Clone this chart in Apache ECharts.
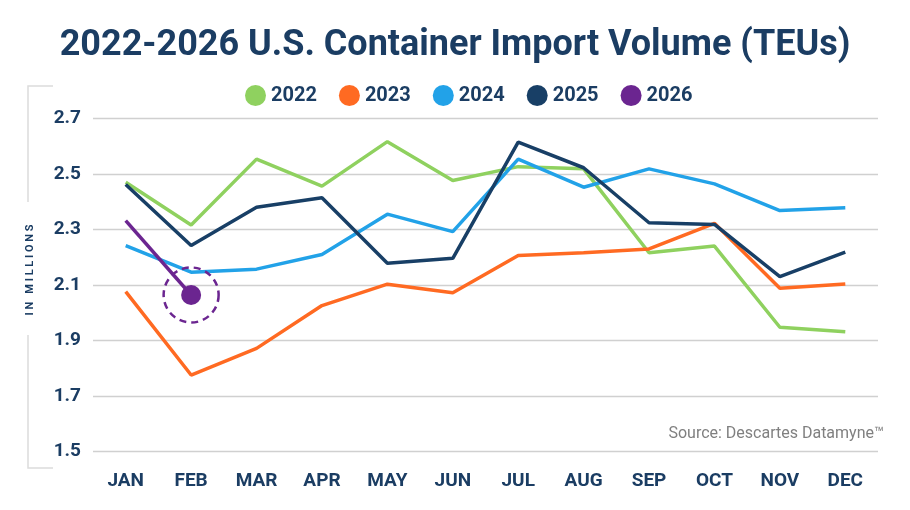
<!DOCTYPE html>
<html><head><meta charset="utf-8">
<script src="https://cdn.jsdelivr.net/npm/echarts@6/dist/echarts.min.js"></script>
<style>html,body{margin:0;padding:0;background:#fff}#c{width:910px;height:510px}</style>
</head><body><div id="c"></div>
<script>
const months = ['JAN','FEB','MAR','APR','MAY','JUN','JUL','AUG','SEP','OCT','NOV','DEC'];
const yTicks = [1.5, 1.7, 1.9, 2.1, 2.3, 2.5, 2.7];
const v2022 = [2.47, 2.316, 2.553, 2.456, 2.616, 2.476, 2.526, 2.518, 2.216, 2.24, 1.948, 1.932];
const v2023 = [2.076, 1.776, 1.872, 2.026, 2.103, 2.072, 2.206, 2.216, 2.23, 2.322, 2.088, 2.104];
const v2024 = [2.242, 2.146, 2.157, 2.21, 2.355, 2.292, 2.553, 2.452, 2.518, 2.464, 2.368, 2.378];
const v2025 = [2.462, 2.242, 2.38, 2.414, 2.178, 2.196, 2.614, 2.522, 2.324, 2.318, 2.13, 2.218];
const v2026 = [2.332, 2.064];
const years = ['2022','2023','2024','2025','2026'];
const colors = ['#8fd15f','#ff6a22','#22a2e8','#183f66','#6b2590'];
const NAVY = '#1b3d63';

const chart = echarts.init(document.getElementById('c'));
const lineSeries = (name, data, color) => ({
  name, type: 'line', data, symbol: 'none', smooth: false,
  lineStyle: { width: 3.5, color }, itemStyle: { color }
});
const last = v2026.length - 1;
const s2026 = lineSeries('2026', v2026.map((v, i) => i === last
  ? { value: v, symbol: 'circle', symbolSize: 20 }
  : { value: v, symbol: 'none' }), colors[4]);
s2026.markPoint = {
  symbol: 'circle', symbolSize: 55, silent: true,
  label: { show: false },
  itemStyle: { color: 'rgba(0,0,0,0)', borderColor: colors[4], borderWidth: 2.5, borderType: [7, 5] },
  data: [{ coord: [last, v2026[last]] }]
};

chart.setOption({
  animation: false,
  textStyle: { fontFamily: 'Roboto' },
  title: {
    text: '2022-2026 U.S. Container Import Volume (TEUs)',
    left: 'center', top: 23,
    textStyle: { fontFamily: 'Roboto', fontWeight: 'bold', fontSize: 36, color: NAVY }
  },
  legend: {
    data: years.map(y => ({ name: y, icon: 'circle' })),
    top: 80, left: 240, itemWidth: 21, itemHeight: 21, itemGap: 22,
    textStyle: { fontFamily: 'Roboto', fontWeight: 'bold', fontSize: 20, color: NAVY }
  },
  color: colors,
  grid: { left: 93, right: 32, top: 118.3, bottom: 58.3, containLabel: false },
  xAxis: {
    type: 'category', data: months, boundaryGap: true,
    axisLine: { show: false }, axisTick: { show: false },
    axisLabel: { fontFamily: 'Roboto', fontWeight: 'bold', fontSize: 19, color: NAVY, margin: 20 }
  },
  yAxis: {
    type: 'value', min: yTicks[0], max: yTicks[yTicks.length - 1], interval: 0.2,
    axisLine: { show: false }, axisTick: { show: false },
    splitLine: { lineStyle: { color: '#d0d0d0', width: 1.4 } },
    axisLabel: { fontFamily: 'Roboto', fontWeight: 'bold', fontSize: 19, color: NAVY, margin: 12,
      formatter: v => v.toFixed(1) }
  },
  graphic: [
    { type: 'polyline', silent: true, shape: { points: [[53, 86], [28, 86], [28, 202]] },
      style: { stroke: '#dcdcdc', lineWidth: 1.5, fill: null } },
    { type: 'polyline', silent: true, shape: { points: [[28, 335], [28, 468], [53, 468]] },
      style: { stroke: '#dcdcdc', lineWidth: 1.5, fill: null } },
    { type: 'text', silent: true, x: 30, y: 270, rotation: Math.PI / 2,
      style: { text: 'I N   M I L L I O N S', fill: NAVY, font: 'bold 11px Roboto', align: 'center', verticalAlign: 'middle' } },
    { type: 'text', silent: true, x: 884, y: 434,
      style: { text: 'Source: Descartes Datamyne™', fill: '#808080', font: '16px Roboto', align: 'right', verticalAlign: 'middle' } }
  ],
  series: [
    lineSeries('2022', v2022, colors[0]),
    lineSeries('2023', v2023, colors[1]),
    lineSeries('2024', v2024, colors[2]),
    lineSeries('2025', v2025, colors[3]),
    s2026
  ]
});
</script></body></html>
